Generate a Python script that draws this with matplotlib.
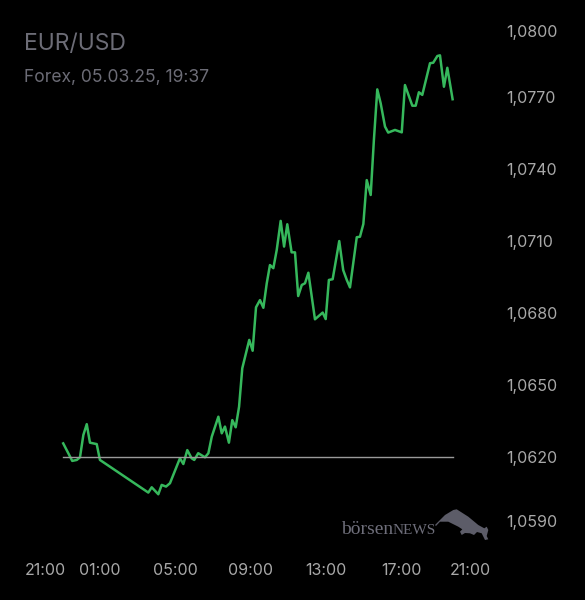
import matplotlib
matplotlib.use("Agg")
import matplotlib.pyplot as plt
import matplotlib.transforms as mtransforms
from matplotlib.patches import Polygon

# hours after 21:00 of the previous day
hours = [2.04, 2.52, 2.76, 2.93, 3.11, 3.29, 3.46, 3.82, 3.99, 6.56,
         6.74, 7.09, 7.27, 7.50, 7.71, 8.24, 8.42, 8.63, 8.86, 9.00,
         9.21, 9.57, 9.75, 9.93, 10.28, 10.46, 10.63, 10.84, 11.02, 11.20,
         11.38, 11.55, 11.92, 12.10, 12.28, 12.49, 12.67, 12.85, 13.02, 13.20,
         13.38, 13.59, 13.77, 13.94, 14.17, 14.35, 14.52, 14.71, 14.88, 15.06,
         15.41, 15.82, 15.98, 16.15, 16.35, 16.70, 16.91, 17.10, 17.27, 17.63,
         17.80, 17.98, 18.16, 18.37, 18.54, 18.72, 18.90, 19.13, 19.30, 19.66,
         20.02, 20.19, 20.58, 20.76, 20.93, 21.11, 21.52, 21.69, 21.91, 22.05,
         22.26, 22.44, 22.72]
rate = [1.06258, 1.06185, 1.06189, 1.06200, 1.06293, 1.06338, 1.06261, 1.06255, 1.06189, 1.06053,
        1.06075, 1.06046, 1.06085, 1.06078, 1.06092, 1.06196, 1.06172, 1.06230, 1.06196, 1.06189,
        1.06217, 1.06200, 1.06217, 1.06286, 1.06369, 1.06300, 1.06328, 1.06261, 1.06355, 1.06325,
        1.06411, 1.06571, 1.06689, 1.06644, 1.06825, 1.06855, 1.06823, 1.06925, 1.07001, 1.06988,
        1.07064, 1.07185, 1.07078, 1.07171, 1.07054, 1.07054, 1.06872, 1.06918, 1.06925, 1.06969,
        1.06775, 1.06803, 1.06776, 1.06939, 1.06942, 1.07101, 1.06980, 1.06939, 1.06908, 1.07117,
        1.07119, 1.07172, 1.07355, 1.07293, 1.07522, 1.07733, 1.07675, 1.07578, 1.07553, 1.07564,
        1.07554, 1.07751, 1.07665, 1.07665, 1.07721, 1.07710, 1.07842, 1.07844, 1.07872, 1.07875,
        1.07744, 1.07823, 1.07692]
prev_close = 1.0620

x_ticks = [0, 4, 8, 12, 16, 20, 24]
x_labels = ["21:00", "01:00", "05:00", "09:00", "13:00", "17:00", "21:00"]
y_ticks = [1.0590, 1.0620, 1.0650, 1.0680, 1.0710, 1.0740, 1.0770, 1.0800]
y_labels = ["1,0590", "1,0620", "1,0650", "1,0680", "1,0710", "1,0740", "1,0770", "1,0800"]

W, H = 585, 600
fig = plt.figure(figsize=(W / 100, H / 100), dpi=100, facecolor="black")
ax = fig.add_axes([24.8 / W, 70.7 / H, 451.9 / W, 504 / H])
ax.set_facecolor("black")

ax.plot(hours, rate, color="#36b85c", lw=1.8, solid_joinstyle="round")
ax.plot([hours[0], hours[-1]], [prev_close, prev_close], color="#9a9a9a", lw=1.0)

ax.set_xlim(0, 24)
ax.set_ylim(1.0590, 1.0800)
for s in ax.spines.values():
    s.set_visible(False)

tick_font = dict(family="Inter", size=11.5, color="#a8a8a8")
ax.set_xticks(x_ticks)
ax.set_xticklabels(x_labels, **tick_font)
ax.set_yticks(y_ticks)
ax.set_yticklabels(y_labels, **tick_font)
ax.yaxis.tick_right()
ax.tick_params(axis="x", length=0, pad=24)
ax.tick_params(axis="y", length=0, pad=21)
for lab in ax.get_yticklabels():
    lab.set_horizontalalignment("left")

# edge labels are pulled inwards
xl = ax.get_xticklabels()
xl[0].set_horizontalalignment("left")
xl[-1].set_transform(xl[-1].get_transform() + mtransforms.ScaledTranslation(-6.7 / 100, 0, fig.dpi_scale_trans))
yl = ax.get_yticklabels()
yl[0].set_transform(yl[0].get_transform() + mtransforms.ScaledTranslation(0, 8.6 / 100, fig.dpi_scale_trans))
yl[-1].set_transform(yl[-1].get_transform() + mtransforms.ScaledTranslation(0, -5.4 / 100, fig.dpi_scale_trans))

fig.text(24 / W, 1 - 50 / H, "EUR/USD", family="Inter", size=16.5, color="#6c6c76", va="baseline")
fig.text(24 / W, 1 - 81.7 / H, "Forex, 05.03.25, 19:37", family="Inter", size=12.6, color="#6c6c76", va="baseline")

# börsenNEWS logo
t = fig.text(340.7 / W, 1 - 534.3 / H, "börsen", family="Liberation Serif", size=14, color="#6e6e7a", va="baseline")
fig.canvas.draw()
bb = t.get_window_extent()
fig.text(bb.x1 / W, 1 - 534.3 / H, "NEWS", family="Liberation Serif", size=11, color="#6e6e7a", va="baseline")
bull = [(435, 525), (445, 515), (453.3, 510), (456.7, 509.3), (468.3, 516.7), (478.3, 525),
        (484.3, 528.3), (486.7, 526.7), (488.3, 530), (486.7, 536), (488.3, 539.3), (485, 540),
        (481.7, 533.3), (477, 532), (474, 535), (470, 533.3), (465, 533), (461.7, 535),
        (460, 531.7), (462.3, 529.3), (458.3, 526.7), (448.3, 521.7), (440, 521.7), (436, 526)]
fig.patches.append(Polygon([(px / W, 1 - py / H) for px, py in bull], closed=True,
                           transform=fig.transFigure, facecolor="#5c5c68", edgecolor="none"))

fig.savefig("out.png", dpi=100, facecolor="black")
